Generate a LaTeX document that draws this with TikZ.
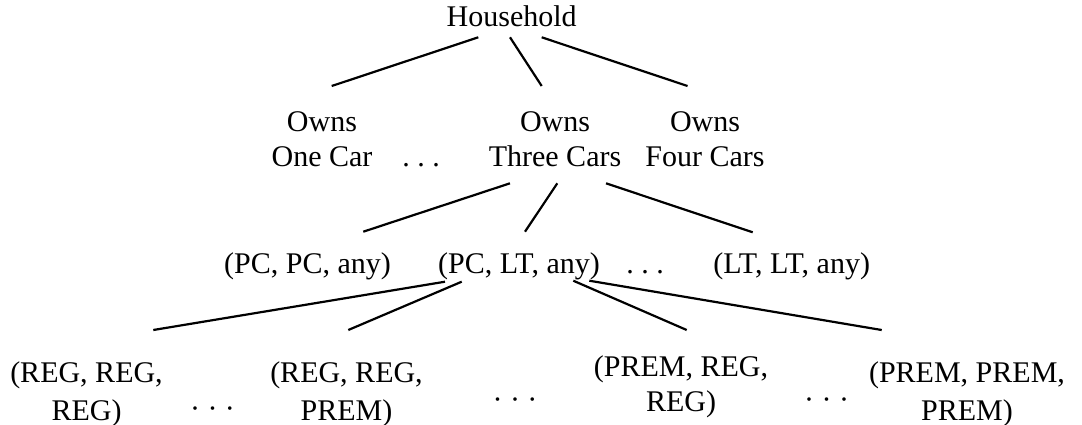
\documentclass[tikz,border=0pt]{standalone}
\usepackage{fontspec}
\setmainfont{Liberation Serif}
\usetikzlibrary{calc}
% two centred lines whose baseline is the first line's
\newcommand{\twoline}[2]{\begin{tabular}[t]{@{}c@{}}#1\\#2\end{tabular}}
\begin{document}
\begin{tikzpicture}[x=0.5pt,y=-0.5pt,
  lbl/.style={inner sep=0pt, anchor=base, font=\fontsize{15}{18}\selectfont},
  pairlbl/.style={lbl, font=\fontsize{15}{17.85}\selectfont},
  triplbl/.style={lbl, font=\fontsize{15}{18.65}\selectfont},
  branch/.style={line width=1.1pt}]
\useasboundingbox (0,0) rectangle (1082,424);

% level 0
\node[lbl] (hh) at (511.7,26.7) {Household};

% level 1: number of cars
\node[pairlbl] (one)   at (322,131) {\twoline{Owns}{One Car}};
\node[lbl]     (dotsA) at (421,166.7) {.~.~.};
\node[pairlbl] (three) at (555,131) {\twoline{Owns}{Three Cars}};
\node[pairlbl] (four)  at (705,131) {\twoline{Owns}{Four Cars}};

% level 2: vehicle types
\node[lbl] (pcpc)  at (307.5,273.3) {(PC, PC, any)};
\node[lbl] (pclt)  at (519,273.3)   {(PC, LT, any)};
\node[lbl] (dotsB) at (645,273.3)   {.~.~.};
\node[lbl] (ltlt)  at (791.7,273.3) {(LT, LT, any)};

% level 3: fuel grades
\node[triplbl] (rrr) at (86.5,382.7) {\twoline{(REG, REG,}{REG)}};
\node[lbl]     (dotsC) at (212.5,418) {·~·~·};
\node[triplbl] (rrp) at (346.5,382.7) {\twoline{(REG, REG,}{PREM)}};
\node[lbl]     (dotsD) at (515,409.7) {·~·~·};
\node[lbl, font=\fontsize{15}{17.5}\selectfont] (prr) at (681,376.7) {\twoline{(PREM, REG,}{REG)}};
\node[lbl]     (dotsE) at (826.7,409.7) {·~·~·};
\node[triplbl] (ppp) at (967,382.7) {\twoline{(PREM, PREM,}{PREM)}};

% branches from the household
\draw[branch] ($(hh.base)+(-33.4,10.6)$) -- ($(one.base)+(9.7,-45)$);
\draw[branch] ($(hh.base)+(-1.7,10.6)$)  -- ($(three.base)+(-13.3,-45)$);
\draw[branch] ($(hh.base)+(30,10.6)$)    -- ($(four.base)+(-17.5,-45)$);

% branches from three cars
\draw[branch] ($(three.base)+(-45,52.3)$) -- ($(pcpc.base)+(55.8,-41.6)$);
\draw[branch] ($(three.base)+(2.3,52.3)$) -- ($(pclt.base)+(6,-41.6)$);
\draw[branch] ($(three.base)+(51,52.3)$)  -- ($(ltlt.base)+(-39,-41)$);

% branches from (PC, LT, any)
\draw[branch] ($(pclt.base)+(-74,8.4)$)   -- ($(rrr.base)+(66.8,-52.7)$);
\draw[branch] ($(pclt.base)+(-57.3,8.4)$) -- ($(rrp.base)+(1.8,-52.7)$);
\draw[branch] ($(pclt.base)+(54.3,7.4)$)  -- ($(prr.base)+(5.7,-46.7)$);
\draw[branch] ($(pclt.base)+(70.3,7.4)$)  -- ($(ppp.base)+(-85.3,-52.7)$);
\end{tikzpicture}
\end{document}
